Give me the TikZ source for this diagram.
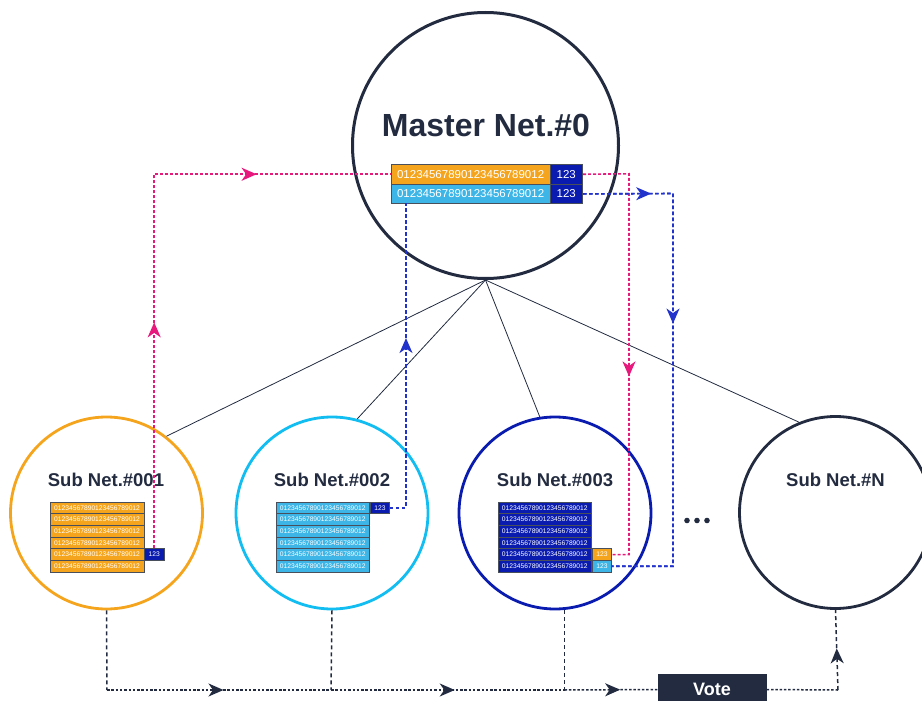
\documentclass[tikz,border=0pt]{standalone}
\usepackage{fontspec}
\setmainfont{Liberation Sans}
\usetikzlibrary{arrows.meta,decorations.markings,shapes.geometric}
\definecolor{navy}{HTML}{222B3F}
\definecolor{orng}{HTML}{F5A51D}
\definecolor{lblue}{HTML}{3DB5E6}
\definecolor{cyanc}{HTML}{12BDF2}
\definecolor{dblue}{HTML}{0A1CB0}
\definecolor{pink}{HTML}{E8197D}
\definecolor{bdash}{HTML}{2233CC}
\definecolor{cellline}{HTML}{4A4F5C}
\tikzset{mytip/.tip={Stealth[length=15pt,width=13pt,inset=4.5pt]}}
\begin{document}
\begin{tikzpicture}[x=1pt,y=-1pt,
  subc/.style={circle, line width=2.8pt, minimum size=192pt, inner sep=0pt},
  title/.style={text=navy, font=\bfseries\fontsize{18.5}{20}\selectfont},
  cell/.style={draw=cellline, line width=0.7pt, inner sep=0pt, anchor=north west,
     minimum width=93.5pt, minimum height=11.67pt, text=white, font=\fontsize{6.7}{7}\selectfont},
  tagc/.style={cell, minimum width=19.3pt},
  mcell/.style={draw=cellline, line width=0.8pt, inner sep=0pt, anchor=north west,
     minimum height=19.7pt, text=white, font=\fontsize{11.5}{12}\selectfont},
  spoke/.style={navy, line width=0.8pt},
  pinkd/.style={pink, line width=1.6pt, dash pattern=on 3pt off 2pt},
  blued/.style={bdash, line width=1.6pt, dash pattern=on 3.5pt off 2.5pt},
  vdash/.style={navy, line width=1.5pt, dash pattern=on 4pt off 3pt},
  hdash/.style={navy, line width=1.5pt, dash pattern=on 2.5pt off 1.8pt},
  arr/.style={postaction={decorate}, decoration={markings, mark=at position #1 with {\arrow{mytip}}}},
]
\useasboundingbox (0,0) rectangle (922,701);
\clip (0,0) rectangle (922,701);

% master
\node[circle, draw=navy, line width=3pt, minimum size=266pt, inner sep=0pt] (m) at (485.5,145.5) {};
\node[text=navy, font=\bfseries\fontsize{32}{34}\selectfont] (mt) at (486,125) {Master Net.\#0};
\node[mcell, fill=orng, minimum width=158.5pt] (m1a) at (391,164) {01234567890123456789012};
\node[mcell, fill=dblue, minimum width=32.8pt] (m1b) at (549.5,164) {123};
\node[mcell, fill=lblue, minimum width=158.5pt] (m2a) at (391,183.7) {01234567890123456789012};
\node[mcell, fill=dblue, minimum width=32.8pt] (m2b) at (549.5,183.7) {123};

% sub circles
\node[subc, draw=orng] (s1) at (106.5,513) {};
\node[subc, draw=cyanc] (s2) at (332,513) {};
\node[subc, draw=dblue] (s3) at (555,513) {};
\node[subc, draw=navy] (sN) at (835.5,512.5) {};
\node[title] (t1) at (106,480) {Sub Net.\#001};
\node[title] (t2) at (332,480) {Sub Net.\#002};
\node[title] (t3) at (555,480) {Sub Net.\#003};
\node[title] (tN) at (835.5,480) {Sub Net.\#N};

% spokes
\draw[spoke] (m.south) -- (s1.52);
\draw[spoke] (m.south) -- (s2.75);
\draw[spoke] (m.south) -- (s3.99.5);
\draw[spoke] (m.south) -- (sN.112);

% tables
\foreach \i in {1,...,6}{
  \node[cell, fill=orng] (a\i) at (50,{501.7+11.67*(\i-1)}) {01234567890123456789012};
  \node[cell, fill=lblue] (b\i) at (275.7,{501.7+11.67*(\i-1)}) {01234567890123456789012};
  \node[cell, fill=dblue] (c\i) at (497.7,{501.7+11.67*(\i-1)}) {01234567890123456789012};
}
\node[tagc, fill=dblue] (ta) at (a5.north east) {123};
\node[tagc, fill=dblue] (tb) at (b1.north east) {123};
\node[tagc, fill=orng] (tc1) at (c5.north east) {123};
\node[tagc, fill=lblue] (tc2) at (c6.north east) {123};

% dots
\fill[navy] (687,520.5) circle (2.8) (697,520.5) circle (2.8) (707,520.5) circle (2.8);

% pink paths
\draw[pinkd, arr=0.37] (ta.north) |- (m1a.west);
\draw[pinkd, postaction={decorate}, decoration={markings, mark=at position 0.78 with {\arrow{mytip}}}] (ta.north) |- (m1a.west);
\coordinate (pk) at (629,173.8);
\draw[pinkd, arr=0.56] (m1b.east) -- (pk) |- (tc1.east);

% blue paths
\coordinate (bu) at (406,203.4);
\draw[blued, arr=0.58] (tb.east) -| (bu);
\coordinate (bk) at (673,193.5);
\draw[blued, arr=0.13] (m2b.east) -- (bk) |- (tc2.east);
\draw[blued, arr=0.42] (m2b.east) -- (bk) |- (tc2.east);

% bottom voting path
\coordinate (b1) at (107,690);
\coordinate (b2) at (331,690);
\coordinate (b3) at (564.5,690);
\coordinate (b4) at (838,690);
\node[fill=navy, minimum width=109pt, minimum height=31pt, inner sep=0pt, text=white,
      font=\bfseries\fontsize{18}{20}\selectfont] (vote) at (712,689.5) {Vote};
\draw[vdash] (s1.south) -- (b1);
\draw[vdash] (s2.south) -- (b2);
\draw[vdash] (b3 |- s3.south) -- (b3);
\draw[hdash, arr=0.52] (b1) -- (b2);
\draw[hdash, arr=0.53] (b2) -- (b3);
\draw[hdash, arr=0.6] (b3) -- (vote.west);
\draw[hdash] (vote.east) -- (b4);
\draw[vdash, arr=0.52] (b4) -- (sN.south);
\end{tikzpicture}
\end{document}
